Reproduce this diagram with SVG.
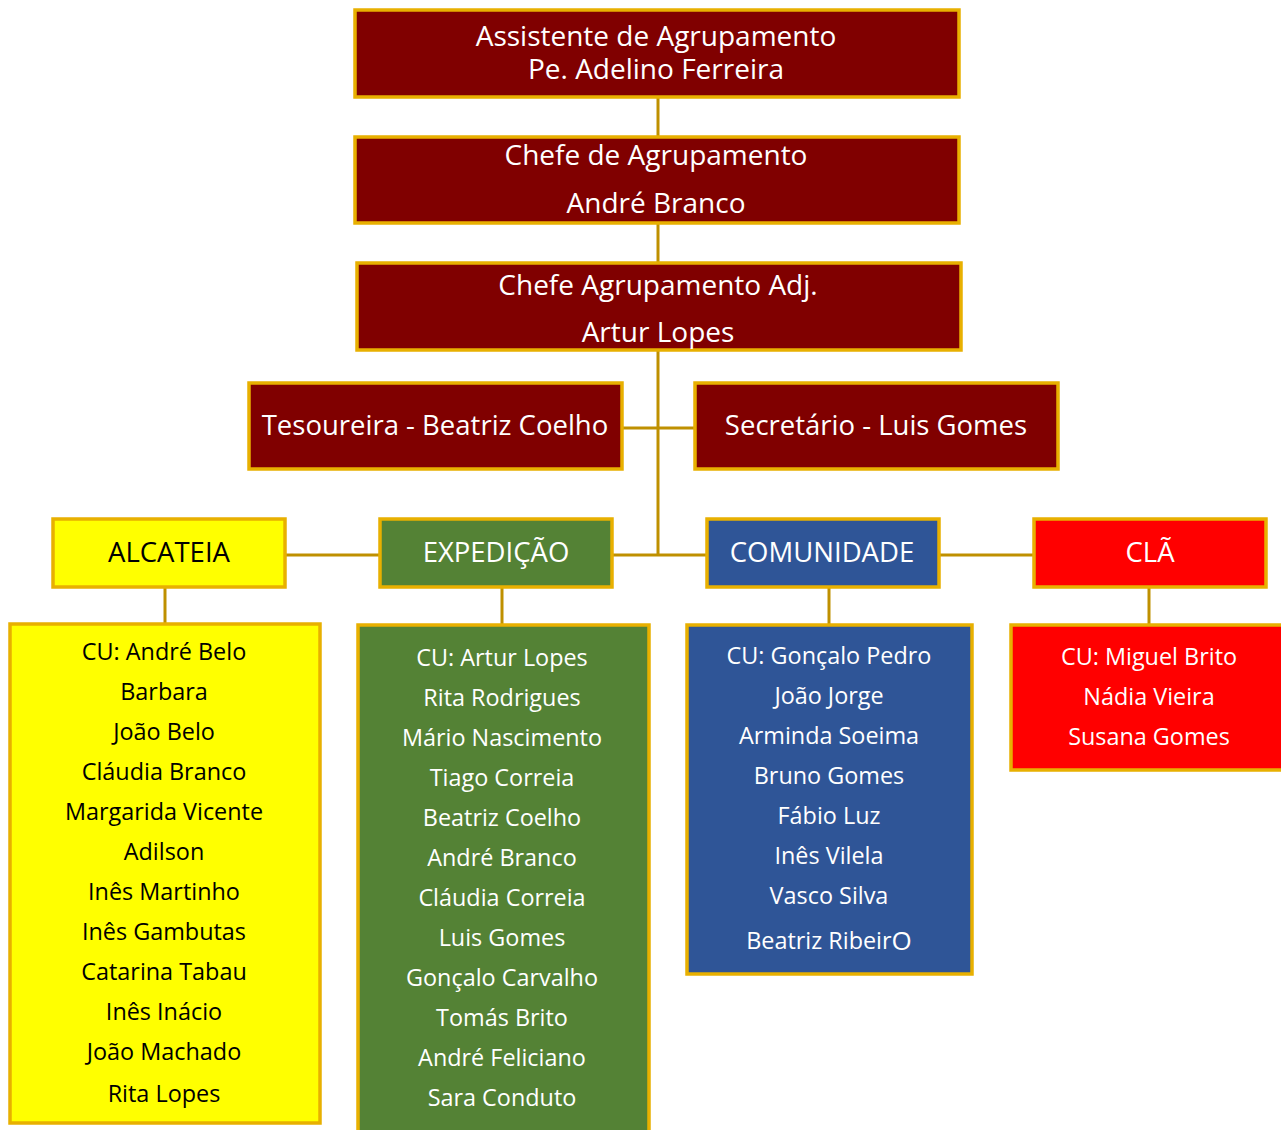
<svg xmlns="http://www.w3.org/2000/svg" width="1281" height="1130" viewBox="0 0 1281 1130">
<style>
.box{stroke:#E8B000;stroke-width:3.5}
.dr{fill:#800000}
.ye{fill:#FFFF00}
.gr{fill:#548235}
.bl{fill:#2F5597}
.rd{fill:#FF0000}
text{font-family:"Open Sans","Noto Sans",sans-serif;text-anchor:middle;dominant-baseline:central}
.w{fill:#FFFFFF}
.k{fill:#000000}
.t1{font-size:28px}
.t2{font-size:27.5px}
.t3{font-size:23.4px}
.con line{stroke:#BF9000;stroke-width:3}
</style>
<rect width="1281" height="1130" fill="#FFFFFF"/>
<g class="con">
<line x1="658" y1="97" x2="658" y2="137"/>
<line x1="658" y1="223" x2="658" y2="263"/>
<line x1="658" y1="350" x2="658" y2="555"/>
<line x1="622" y1="428" x2="694" y2="428"/>
<line x1="286" y1="555" x2="379" y2="555"/>
<line x1="612" y1="555" x2="706" y2="555"/>
<line x1="939" y1="555" x2="1033" y2="555"/>
<line x1="165" y1="587" x2="165" y2="623"/>
<line x1="502" y1="587" x2="502" y2="624"/>
<line x1="829" y1="587" x2="829" y2="624"/>
<line x1="1149" y1="587" x2="1149" y2="624"/>
</g>
<g id="assistente">
<rect class="box dr" x="355" y="10" width="604" height="87"/>
<text class="w t1" x="656" y="35">Assistente de Agrupamento</text>
<text class="w t1" x="656" y="68">Pe. Adelino Ferreira</text>
</g>
<g id="chefe">
<rect class="box dr" x="355" y="137" width="604" height="86"/>
<text class="w t1" x="656" y="154">Chefe de Agrupamento</text>
<text class="w t1" x="656" y="202">André Branco</text>
</g>
<g id="chefe-adj">
<rect class="box dr" x="357" y="263" width="604" height="87"/>
<text class="w t1" x="658" y="284">Chefe Agrupamento Adj.</text>
<text class="w t1" x="658" y="331">Artur Lopes</text>
</g>
<g id="tesoureira">
<rect class="box dr" x="249" y="383" width="373" height="86"/>
<text class="w t2" x="435" y="424">Tesoureira - Beatriz Coelho</text>
</g>
<g id="secretario">
<rect class="box dr" x="695" y="383" width="363" height="86"/>
<text class="w t2" x="876" y="424">Secretário - Luis Gomes</text>
</g>
<g id="alcateia">
<rect class="box ye" x="53" y="519" width="232" height="68"/>
<text class="k t2" x="169" y="551">ALCATEIA</text>
</g>
<g id="expedicao">
<rect class="box gr" x="380" y="519" width="232" height="68"/>
<text class="w t2" x="496" y="551">EXPEDIÇÃO</text>
</g>
<g id="comunidade">
<rect class="box bl" x="707" y="519" width="232" height="68"/>
<text class="w t2" x="822" y="551">COMUNIDADE</text>
</g>
<g id="cla">
<rect class="box rd" x="1034" y="519" width="232" height="68"/>
<text class="w t2" x="1150" y="551">CLÃ</text>
</g>
<g id="alcateia-lista">
<rect class="box ye" x="10" y="624" width="310" height="499"/>
<g class="k t3">
<text x="164" y="651">CU: André Belo</text>
<text x="164" y="691">Barbara</text>
<text x="164" y="731">João Belo</text>
<text x="164" y="771">Cláudia Branco</text>
<text x="164" y="811">Margarida Vicente</text>
<text x="164" y="851">Adilson</text>
<text x="164" y="891">Inês Martinho</text>
<text x="164" y="931">Inês Gambutas</text>
<text x="164" y="971">Catarina Tabau</text>
<text x="164" y="1011">Inês Inácio</text>
<text x="164" y="1051">João Machado</text>
<text x="164" y="1093">Rita Lopes</text>
</g>
</g>
<g id="expedicao-lista">
<rect class="box gr" x="358" y="625" width="291" height="515"/>
<g class="w t3">
<text x="502" y="657">CU: Artur Lopes</text>
<text x="502" y="697">Rita Rodrigues</text>
<text x="502" y="737">Mário Nascimento</text>
<text x="502" y="777">Tiago Correia</text>
<text x="502" y="817">Beatriz Coelho</text>
<text x="502" y="857">André Branco</text>
<text x="502" y="897">Cláudia Correia</text>
<text x="502" y="937">Luis Gomes</text>
<text x="502" y="977">Gonçalo Carvalho</text>
<text x="502" y="1017">Tomás Brito</text>
<text x="502" y="1057">André Feliciano</text>
<text x="502" y="1097">Sara Conduto</text>
</g>
</g>
<g id="comunidade-lista">
<rect class="box bl" x="687" y="625" width="285" height="349"/>
<g class="w t3">
<text x="829" y="655">CU: Gonçalo Pedro</text>
<text x="829" y="695">João Jorge</text>
<text x="829" y="735">Arminda Soeima</text>
<text x="829" y="775">Bruno Gomes</text>
<text x="829" y="815">Fábio Luz</text>
<text x="829" y="855">Inês Vilela</text>
<text x="829" y="895">Vasco Silva</text>
<text x="829" y="940">Beatriz Ribeir<tspan font-size="26">O</tspan></text>
</g>
</g>
<g id="cla-lista">
<rect class="box rd" x="1011" y="625" width="280" height="145"/>
<g class="w t3">
<text x="1149" y="656">CU: Miguel Brito</text>
<text x="1149" y="696">Nádia Vieira</text>
<text x="1149" y="736">Susana Gomes</text>
</g>
</g>
</svg>
